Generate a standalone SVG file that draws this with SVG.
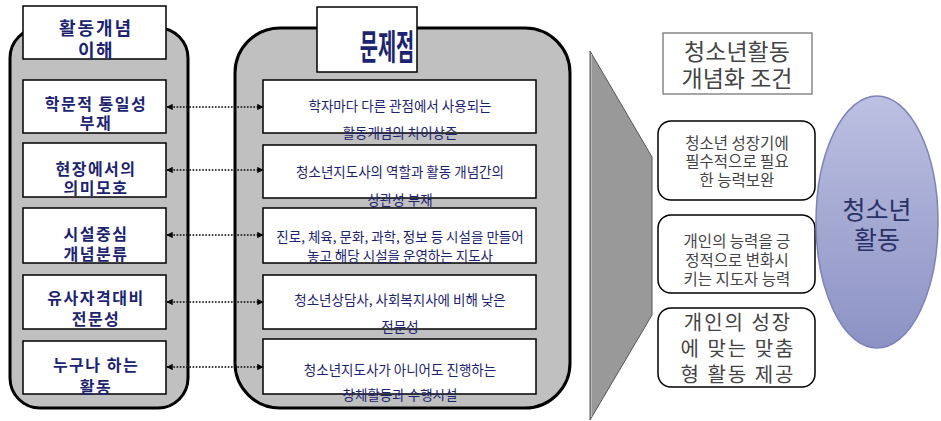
<svg xmlns="http://www.w3.org/2000/svg" width="941" height="421" viewBox="0 0 941 421">
<defs>
<style>
.cont{fill:#c0c0c0;stroke:#000;stroke-width:3}
.box{fill:#fff;stroke:#000;stroke-width:1.5}
.lt{font-family:"Noto Sans CJK KR",sans-serif;font-weight:bold;font-size:16px;letter-spacing:1.5px;fill:#1c2470;text-anchor:middle}
.mt{font-family:"Noto Sans CJK KR",sans-serif;font-size:13.5px;fill:#1c2470;text-anchor:middle}
.rt{font-family:"Noto Sans CJK KR",sans-serif;font-size:15.5px;fill:#444;text-anchor:middle}
.big{font-size:20px;letter-spacing:2px}
.rb{fill:#fff;stroke:#000;stroke-width:1.5}
.con{stroke:#000;stroke-width:1.6;stroke-dasharray:1.6 1.6;fill:none;marker-start:url(#ah);marker-end:url(#ah)}
</style>
<marker id="ah" viewBox="0 0 10 10" refX="9" refY="5" markerWidth="4" markerHeight="4" orient="auto-start-reverse" markerUnits="strokeWidth">
<path d="M0,0 L10,5 L0,10 z" fill="#000"/>
</marker>
<linearGradient id="eg" x1="0" y1="0" x2="0" y2="1">
<stop offset="0" stop-color="#bcc0e2"/>
<stop offset="1" stop-color="#8c92c4"/>
</linearGradient>
</defs>
<rect width="941" height="421" fill="#fff"/>

<g id="left-group">
<rect class="cont" x="10" y="28" width="178" height="380" rx="30"/>
<rect class="box" x="23" y="6" width="143" height="53"/>
<text class="lt" x="96" y="35" style="font-size:18px;letter-spacing:2px">활동개념</text>
<text class="lt" x="96" y="57" style="font-size:18px">이해</text>
</g>
<g id="l1"><rect class="box" x="23" y="80" width="143" height="53"/><text class="lt" x="96" y="110">학문적 통일성</text><text class="lt" x="96" y="129">부재</text></g>
<g id="l2"><rect class="box" x="23" y="143" width="143" height="54"/><text class="lt" x="96" y="175">현장에서의</text><text class="lt" x="96" y="194">의미모호</text></g>
<g id="l3"><rect class="box" x="23" y="208" width="143" height="55"/><text class="lt" x="96" y="240">시설중심</text><text class="lt" x="96" y="260">개념분류</text></g>
<g id="l4"><rect class="box" x="23" y="275" width="143" height="54"/><text class="lt" x="96" y="304">유사자격대비</text><text class="lt" x="96" y="325">전문성</text></g>
<g id="l5"><rect class="box" x="23" y="341" width="143" height="53"/><text class="lt" x="96" y="371">누구나 하는</text><text class="lt" x="96" y="393">활동</text></g>

<g id="mid-group">
<rect class="cont" x="235" y="28" width="335" height="380" rx="45"/>
<rect class="box" x="317" y="7" width="100" height="65"/>
<text class="lt" transform="translate(387,60) scale(0.9,1.6)" x="0" y="0" style="font-size:22px;letter-spacing:0">문제점</text>
</g>
<g id="m1"><rect class="box" x="263" y="80" width="273" height="53"/><text class="mt" x="400" y="111">학자마다 다른 관점에서 사용되는</text><text class="mt" x="400" y="138">활동개념의 차이상존</text></g>
<g id="m2"><rect class="box" x="263" y="145" width="273" height="53"/><text class="mt" x="400" y="177">청소년지도사의 역할과 활동 개념간의</text><text class="mt" x="400" y="205">상관성 부재</text></g>
<g id="m3"><rect class="box" x="263" y="208" width="273" height="55"/><text class="mt" x="400" y="242">진로, 체육, 문화, 과학, 정보 등 시설을 만들어</text><text class="mt" x="400" y="261">놓고 해당 시설을 운영하는 지도사</text></g>
<g id="m4"><rect class="box" x="263" y="275" width="273" height="54"/><text class="mt" x="400" y="305">청소년상담사, 사회복지사에 비해 낮은</text><text class="mt" x="400" y="332">전문성</text></g>
<g id="m5"><rect class="box" x="263" y="339" width="273" height="55"/><text class="mt" x="400" y="375">청소년지도사가 아니어도 진행하는</text><text class="mt" x="400" y="400">창체활동과 수행시설</text></g>

<g id="connectors">
<line class="con" x1="167" y1="107" x2="263" y2="107"/>
<line class="con" x1="167" y1="170" x2="263" y2="170"/>
<line class="con" x1="167" y1="235" x2="263" y2="235"/>
<line class="con" x1="167" y1="302" x2="263" y2="302"/>
<line class="con" x1="167" y1="367" x2="263" y2="367"/>
</g>

<g id="arrow-shape">
<path d="M590,51 L652,157 L652,315 L590,420 Z" fill="#999" stroke="#555" stroke-width="1"/>
<line x1="591.5" y1="54" x2="591.5" y2="417" stroke="#bbb" stroke-width="1"/>
</g>

<g id="r-title">
<rect x="663" y="33" width="149" height="61" fill="#fff" stroke="#888" stroke-width="1.5"/>
<text class="rt" x="737" y="60" style="font-size:23px">청소년활동</text>
<text class="rt" x="737" y="87" style="font-size:23px">개념화 조건</text>
</g>
<g id="r1"><rect class="rb" x="658" y="121" width="157" height="79" rx="13"/>
<text class="rt" x="737" y="149">청소년 성장기에</text><text class="rt" x="737" y="167">필수적으로 필요</text><text class="rt" x="737" y="186">한 능력보완</text></g>
<g id="r2"><rect class="rb" x="658" y="215" width="157" height="78" rx="13"/>
<text class="rt" x="737" y="247">개인의 능력을 긍</text><text class="rt" x="737" y="266">정적으로 변화시</text><text class="rt" x="737" y="285">키는 지도자 능력</text></g>
<g id="r3"><rect class="rb" x="658" y="308" width="157" height="79" rx="13"/>
<text class="rt big" x="738" y="330">개인의 성장</text><text class="rt big" x="738" y="356">에 맞는 맞춤</text><text class="rt big" x="738" y="382">형 활동 제공</text></g>

<g id="ellipse-node">
<ellipse cx="877" cy="222" rx="61" ry="126" fill="url(#eg)" stroke="#7d83b5" stroke-width="1.5"/>
<text class="rt" x="877" y="219" style="font-size:25px;fill:#2b3266">청소년</text>
<text class="rt" x="877" y="249" style="font-size:25px;fill:#2b3266">활동</text>
</g>
</svg>
